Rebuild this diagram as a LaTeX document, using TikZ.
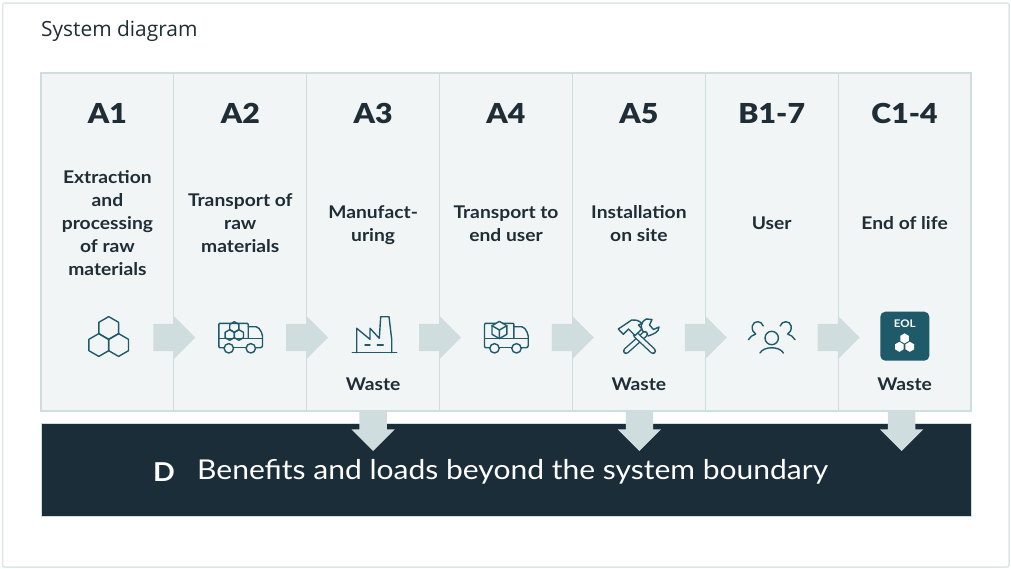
\documentclass[tikz,border=0pt]{standalone}
\usepackage{fontspec}
\setmainfont[FakeStretch=1.1]{Lato}
\newfontfamily\headfont[FakeStretch=1.1]{Lato Black}
\newfontfamily\titlefont{Open Sans}
\usetikzlibrary{shapes,positioning,calc}
\definecolor{framecol}{HTML}{DDE6E7}
\definecolor{cellcol}{HTML}{F2F5F6}
\definecolor{edgecol}{HTML}{D0DDDF}
\definecolor{barcol}{HTML}{1B2D38}
\definecolor{iconcol}{HTML}{1F5A6B}
\definecolor{textcol}{HTML}{1F2D36}
\tikzset{
	pics/hexcell/.style={code={\path[pic actions] (90:#1) -- (150:#1) -- (210:#1) -- (270:#1) -- (330:#1) -- (30:#1) -- cycle;}},
	pics/hexcell/.default=11.4,
	pics/lorry/.style={code={
		\draw[iconline,rounded corners=1pt] (8.2,1.3) -- (8.2,-13.7) -- (-21.2,-13.7) -- (-21.2,10.7) -- (-15.9,10.7);
		\draw[iconline,rounded corners=2pt] (8.2,-10.3) -- (18,-10.3) -- (22.5,-3) -- (22.5,10.7) -- (15.5,10.7);
		\draw[iconline] (-6.5,10.7) -- (6.1,10.7);
		\draw[iconline] (-21.2,1.3) -- (22.5,1.3);
		\draw[iconline] (-11.2,11.3) circle (4.7);
		\draw[iconline] (10.8,11.3) circle (4.7);
	}},
	pics/mate/.style={code={
		\draw[iconline] (-8.5,-12) .. controls (-10,-17.5) and (-18,-18) .. (-19.5,-12) .. controls (-20,-8) and (-18,-5) .. (-16,-4) .. controls (-19,-3) and (-22,-1) .. (-23.3,1.7);
	}}
}
\begin{document}
\begin{tikzpicture}[x=1pt,y=-1pt,node distance=0pt]
	\tikzstyle{iconline}=[draw=iconcol,line width=1.4pt,line join=round,line cap=round]
	\tikzstyle{cell}=[draw=edgecol,fill=cellcol,line width=1.2pt,minimum width=132.86pt,minimum height=338pt,outer sep=0pt,inner sep=0pt]
	\tikzstyle{heading}=[text=textcol,font=\headfont\fontsize{27.5}{27}\selectfont,text height=20pt,text depth=0pt,inner sep=0pt]
	\tikzstyle{stage}=[text=textcol,font=\fontsize{17.5}{23}\selectfont\bfseries,align=center,inner sep=0pt]
	\tikzstyle{flowarrow}=[single arrow,fill=edgecol,text width=0pt,text height=27pt,text depth=0pt,minimum height=42pt,minimum width=43pt,single arrow head extend=8pt,inner sep=0pt,outer sep=0pt,anchor=tip]
	\tikzstyle{flowdown}=[flowarrow,rotate=-90,minimum height=40pt]

	\useasboundingbox (0,0) rectangle (1011,568);
	\draw[framecol,line width=1.5pt,rounded corners=2pt] (2.5,3) rectangle (1009,567);
	\node[text=textcol,font=\titlefont\fontsize{20.9}{21}\selectfont,anchor=base west,inner sep=0pt](title) at (41,36){System diagram};

	\node[draw=edgecol,fill=barcol,line width=1.2pt,minimum width=930pt,minimum height=93pt,anchor=north west,inner sep=0pt](bar) at (41,423){};

	\node[cell,anchor=north west](col1) at (41,73){};
	\node[cell](col2)[right=of col1]{};
	\node[cell](col3)[right=of col2]{};
	\node[cell](col4)[right=of col3]{};
	\node[cell](col5)[right=of col4]{};
	\node[cell](col6)[right=of col5]{};
	\node[cell](col7)[right=of col6]{};

	\node[heading](a1) at ($(col1.north)+(0,40)$){A1};
	\node[heading](a2) at ($(col2.north)+(0,40)$){A2};
	\node[heading](a3) at ($(col3.north)+(0,40)$){A3};
	\node[heading](a4) at ($(col4.north)+(0,40)$){A4};
	\node[heading](a5) at ($(col5.north)+(0,40)$){A5};
	\node[heading](b1) at ($(col6.north)+(0,40)$){B1-7};
	\node[heading](c1) at ($(col7.north)+(0,40)$){C1-4};

	\node[stage](extract) at ($(col1.north)+(0,150)$){Extraction\\and\\processing\\of raw\\materials};
	\node[stage](rawtrans) at ($(col2.north)+(0,150)$){Transport of\\raw\\materials};
	\node[stage](manuf) at ($(col3.north)+(0,152)$){Manufact-\\uring};
	\node[stage](usertrans) at ($(col4.north)+(0,151)$){Transport to\\end user};
	\node[stage](install) at ($(col5.north)+(0,151)$){Installation\\on site};
	\node[stage](user) at ($(col6.north)+(0,150)$){User};
	\node[stage](eol) at ($(col7.north)+(0,150)$){End of life};

	\node[stage](waste3) at ($(col3.north)+(0,311.5)$){Waste};
	\node[stage](waste5) at ($(col5.north)+(0,311.5)$){Waste};
	\node[stage](waste7) at ($(col7.north)+(0,311.5)$){Waste};

	% right arrows sit on the cell borders
	\node[flowarrow](flow1) at ($(col1.east |- 0,337.5)+(21.5,0)$){};
	\node[flowarrow](flow2) at ($(col2.east |- 0,337.5)+(21.5,0)$){};
	\node[flowarrow](flow3) at ($(col3.east |- 0,337.5)+(21.5,0)$){};
	\node[flowarrow](flow4) at ($(col4.east |- 0,337.5)+(21.5,0)$){};
	\node[flowarrow](flow5) at ($(col5.east |- 0,337.5)+(21.5,0)$){};
	\node[flowarrow](flow6) at ($(col6.east |- 0,337.5)+(21.5,0)$){};

	\node[flowdown](drop3) at ($(col3.south)+(0,40)$){};
	\node[flowdown](drop5) at ($(col5.south)+(0.6,40)$){};
	\node[flowdown](drop7) at ($(col7.south)+(-3,40)$){};

	\node[font=\fontsize{26}{26}\selectfont\bfseries,text=white,inner sep=0pt](dmark) at (164,472){D};
	\node[font=\fontsize{27.3}{27}\selectfont,text=white,inner sep=0pt,anchor=west](dtext) at (197,472){Benefits and loads beyond the system boundary};

	% hexagons
	\pic[iconline] at (108.7,328) {hexcell};
	\pic[iconline] at (98.8,345) {hexcell};
	\pic[iconline] at (118.6,345) {hexcell};

	% lorry with hexagons
	\pic at (240,337) {lorry};
	\pic[iconline] at (234.3,327) {hexcell=5.3};
	\pic[iconline] at (229.7,335) {hexcell=5.3};
	\pic[iconline] at (238.9,335) {hexcell=5.3};

	% factory
	\begin{scope}[shift={(374.5,337)}]
		\draw[iconline] (-22.2,15.7) -- (22.2,15.7);
		\draw[iconline] (-17.8,15.7) -- (-17.8,-8.7) -- (-4.5,2.3) -- (-4.5,-8.7) -- (4.8,1.3) -- (6.2,-20.3) -- (14.5,-20.3) -- (17.2,2.3) -- (17.2,15.7);
		\draw[iconline] (-9.5,8) -- (-4.5,8);
		\draw[iconline] (2.8,8) -- (8.8,8);
	\end{scope}

	% lorry with box
	\pic at (505.7,337) {lorry};
	\begin{scope}[shift={(499.4,330)}]
		\draw[iconline,fill=cellcol] (90:8.6) -- (150:8.6) -- (210:8.6) -- (270:8.6) -- (330:8.6) -- (30:8.6) -- cycle;
		\draw[iconline] (90:8.6) -- (0,0) -- (210:8.6);
		\draw[iconline] (0,0) -- (330:8.6);
	\end{scope}

	% tools
	\begin{scope}[shift={(639,336)}]
		\draw[iconline] (7.5,-17) .. controls (1,-14) and (1,-7) .. (4.5,-4);
		\draw[iconline] (9,0) .. controls (15,-2) and (20,-4) .. (20,-9) -- (14.5,-6.5) -- (10.5,-11) -- (13,-16.5) -- (7.5,-17);
		\draw[iconline,double=cellcol,double distance=3.5pt] (-13,15) -- (6,-2);
		\draw[iconline,double=cellcol,double distance=3.5pt] (-3,-1) -- (14,15);
		\draw[iconline,fill=cellcol] (-20.7,-7) -- (-15.7,-1.7) -- (-10.5,-7) -- (-4,-0.5) -- (3,-7) -- (-0.5,-11) -- (3,-12.7) .. controls (-1,-16) and (-4,-16.5) .. (-7.3,-16) -- cycle;
	\end{scope}

	% people
	\begin{scope}[shift={(771.7,338)}]
		\draw[iconline] (0,0) circle (6.7);
		\draw[iconline] (-11.7,15) .. controls (-8,8) and (8,8) .. (11.7,15);
		\pic at (0,0) {mate};
		\pic[xscale=-1] at (0,0) {mate};
	\end{scope}

	% end of life
	\node[fill=iconcol,rounded corners=5pt,minimum size=49pt,inner sep=0pt](eolbox) at (904.8,336.2){};
	\node[font=\fontsize{10.5}{11}\selectfont\bfseries,text=white,inner sep=0pt](eoltext) at (904.8,323.3){EOL};
	\pic[fill=white] at (904.6,338.4) {hexcell=5};
	\pic[fill=white] at (899.4,346.8) {hexcell=5};
	\pic[fill=white] at (909.8,346.8) {hexcell=5};
\end{tikzpicture}
\end{document}
